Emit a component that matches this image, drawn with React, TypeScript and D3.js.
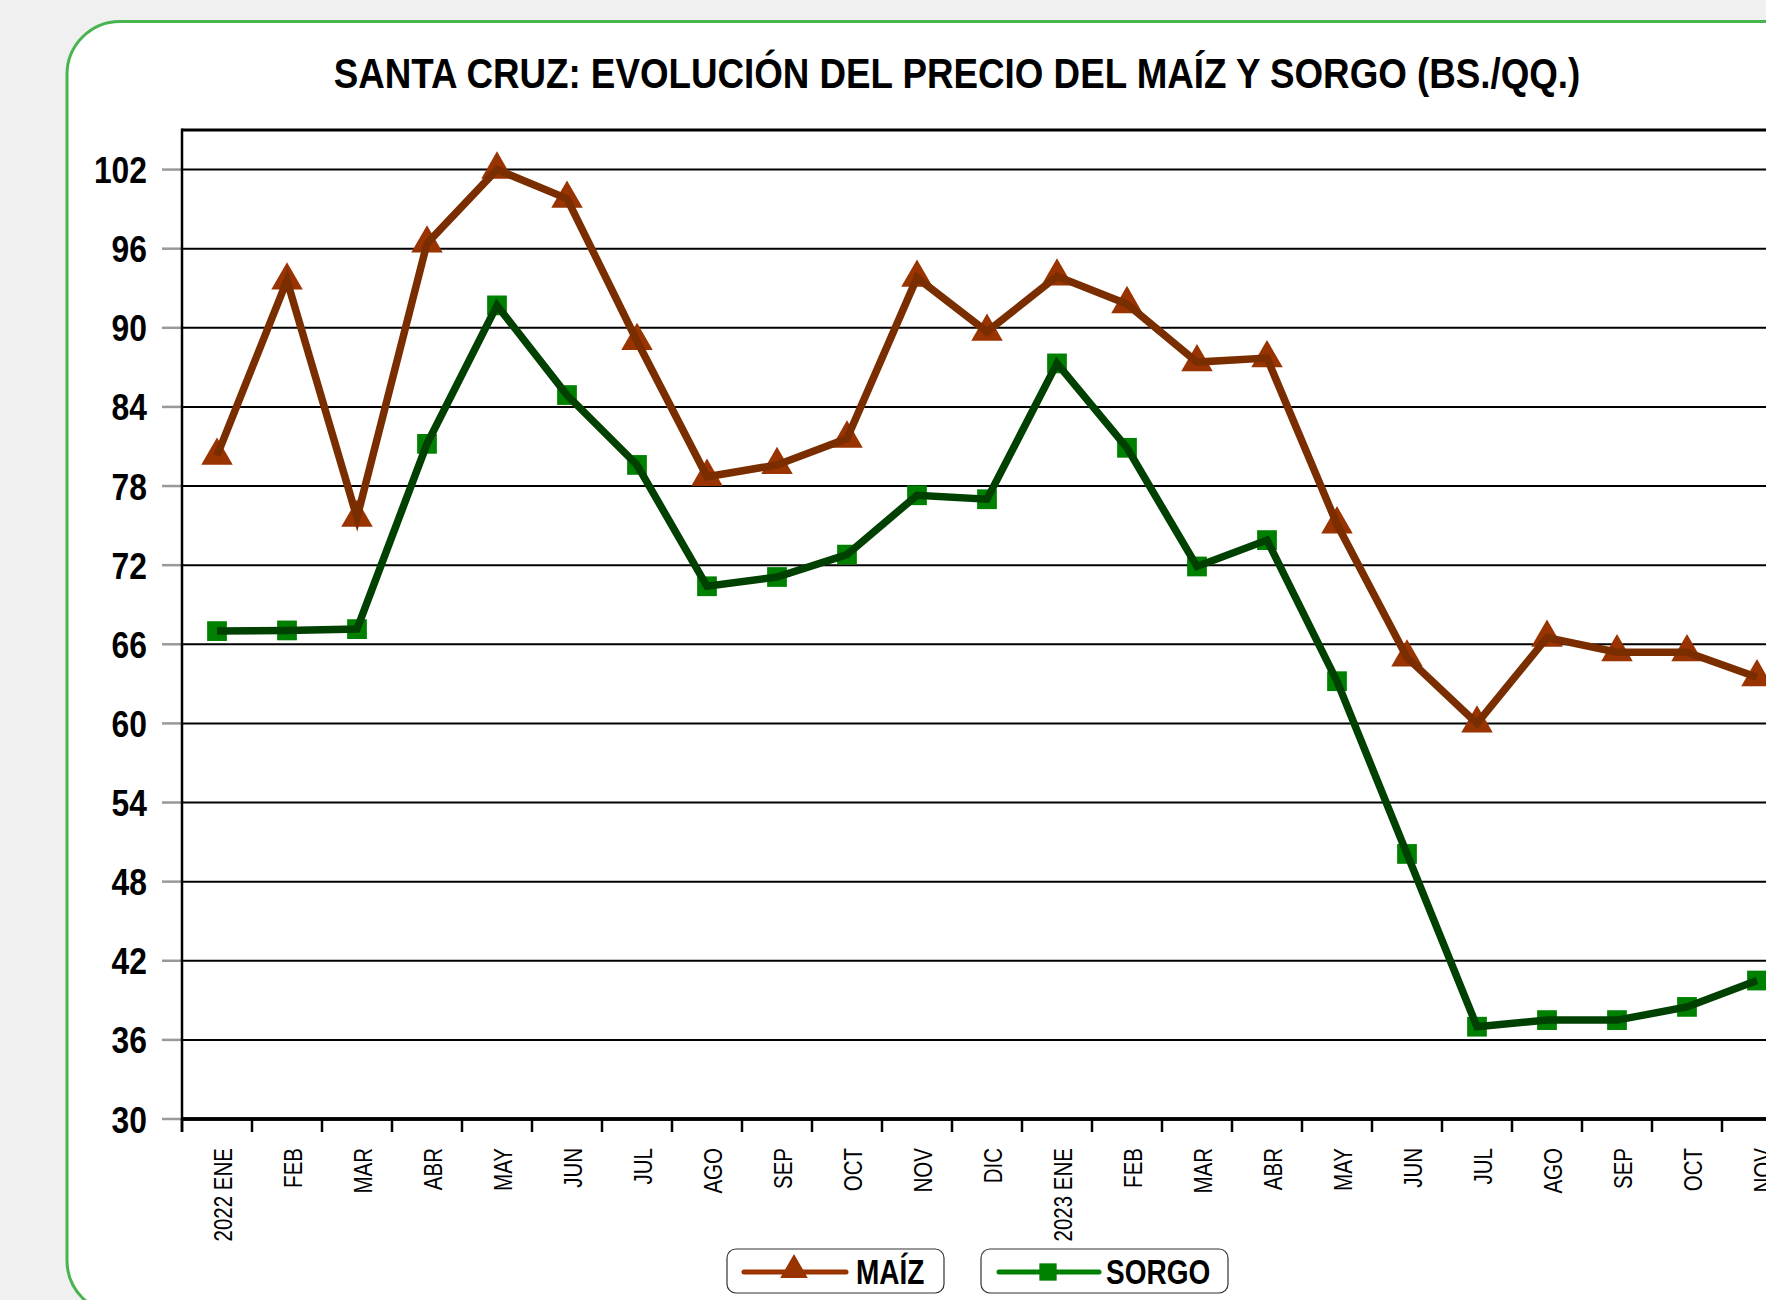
import React from "react";
import * as d3 from "d3";

const categories = [
  "2022 ENE", "FEB", "MAR", "ABR", "MAY", "JUN", "JUL", "AGO", "SEP", "OCT", "NOV", "DIC",
  "2023 ENE", "FEB", "MAR", "ABR", "MAY", "JUN", "JUL", "AGO", "SEP", "OCT", "NOV",
];
const maizValues = [
  80.3, 93.6, 75.6, 96.4, 102.0, 99.8, 89.0, 78.7, 79.6, 81.6, 93.8, 89.7,
  93.9, 91.8, 87.4, 87.7, 75.1, 65.0, 60.0, 66.5, 65.4, 65.4, 63.5,
];
const sorgoValues = [
  67.0, 67.05, 67.15, 81.2, 91.7, 84.9, 79.6, 70.4, 71.1, 72.8, 77.3, 77.0,
  87.3, 80.9, 71.9, 73.9, 63.2, 50.1, 37.0, 37.5, 37.5, 38.5, 40.5,
];
const yTicks = [30, 36, 42, 48, 54, 60, 66, 72, 78, 84, 90, 96, 102];
const titleText = "SANTA CRUZ: EVOLUCIÓN DEL PRECIO DEL MAÍZ Y SORGO (BS./QQ.)";
const seriesNames = ["MAÍZ", "SORGO"];

const FONT = "'Liberation Sans', Arial, sans-serif";
const NARROW = 0.82;

export default function App() {
  const W = 1766, H = 1300;
  const left = 182, top = 130, bottom = 1119, step = 70;
  const idx = categories.map((_, i) => i);
  const x = d3.scaleBand<number>().domain(idx).range([left, left + step * categories.length]).padding(0);
  const y = d3.scaleLinear().domain([30, 105]).range([bottom, top]);
  const cx = (i: number) => (x(i) as number) + x.bandwidth() / 2;
  const line = d3.line<number>().x((_, i) => cx(i)).y((d) => y(d));
  const tri = d3.symbol(d3.symbolTriangle, 430)();
  const sq = d3.symbol(d3.symbolSquare, 390)();
  const triLegend = d3.symbol(d3.symbolTriangle, 330)();
  const sqLegend = d3.symbol(d3.symbolSquare, 300)();
  const rightEdge = left + step * categories.length;

  const maizLine = "#7a2e00";
  const maizMarker = "#993300";
  const sorgoLine = "#004000";
  const sorgoMarker = "#008000";
  const ly = 1249;

  return (
    <svg width={W} height={H} style={{ position: "absolute", left: 0, top: 0 }}>
      <rect x={0} y={0} width={W} height={H} fill="#f0f0f0" />
      <rect x={67} y={21.5} width={1900} height={1292} rx={53} ry={53} fill="#ffffff" stroke="#48b450" strokeWidth={3} />
      <text transform={`translate(957,88) scale(0.875,1)`} textAnchor="middle" fontFamily={FONT} fontWeight="bold" fontSize={42}
        fill="#000">{titleText}</text>

      {/* gridlines */}
      {yTicks.map((t) => (
        <g key={t}>
          <line x1={left} x2={W + 10} y1={y(t)} y2={y(t)} stroke="#000" strokeWidth={t === 30 ? 3.5 : 2} />
          <line x1={162} x2={left} y1={y(t)} y2={y(t)} stroke="#999" strokeWidth={2.5} />
          <text transform={`translate(147,${y(t) + 13.5}) scale(0.86,1)`} textAnchor="end" fontFamily={FONT} fontWeight="bold" fontSize={37} fill="#000">{t}</text>
        </g>
      ))}
      {/* plot top border */}
      <line x1={left} x2={W + 10} y1={top} y2={top} stroke="#000" strokeWidth={3} />
      {/* left axis */}
      <line x1={left} x2={left} y1={top - 1.5} y2={bottom + 13} stroke="#000" strokeWidth={2.5} />
      {/* x ticks */}
      {d3.range(categories.length + 1).map((i) => (
        <line key={i} x1={left + i * step} x2={left + i * step} y1={bottom} y2={bottom + 13} stroke="#000" strokeWidth={2.5} />
      ))}
      {categories.map((c, i) => (
        <text key={i} transform={`translate(${cx(i) + 15},1148) rotate(-90) scale(${NARROW},1)`} textAnchor="end"
          fontFamily={FONT} fontSize={25} fill="#000">{c}</text>
      ))}
      <line x1={left} x2={rightEdge} y1={bottom} y2={bottom} stroke="#000" strokeWidth={3.5} />

      {/* series */}
      {maizValues.map((v, i) => (
        <path key={"mm" + i} d={tri as string} transform={`translate(${cx(i)},${y(v)})`} fill={maizMarker} />
      ))}
      <path d={line(maizValues) as string} fill="none" stroke={maizLine} strokeWidth={7.5} strokeLinejoin="miter" />
      {sorgoValues.map((v, i) => (
        <path key={"sm" + i} d={sq as string} transform={`translate(${cx(i)},${y(v)})`} fill={sorgoMarker} />
      ))}
      <path d={line(sorgoValues) as string} fill="none" stroke={sorgoLine} strokeWidth={7.5} strokeLinejoin="miter" />

      {/* legend */}
      <rect x={727} y={ly} width={217} height={44} rx={9} fill="#fff" stroke="#333" strokeWidth={1.2} />
      <line x1={744} x2={846} y1={ly + 23} y2={ly + 23} stroke={maizMarker} strokeWidth={5} strokeLinecap="round" />
      <path d={triLegend as string} transform={`translate(794,${ly + 21})`} fill={maizMarker} />
      <text transform={`translate(856,${ly + 35}) scale(0.8,1)`} fontFamily={FONT} fontWeight="bold" fontSize={35} fill="#000">{seriesNames[0]}</text>

      <rect x={981} y={ly} width={247} height={44} rx={9} fill="#fff" stroke="#333" strokeWidth={1.2} />
      <line x1={999} x2={1099} y1={ly + 23} y2={ly + 23} stroke={sorgoMarker} strokeWidth={5} strokeLinecap="round" />
      <path d={sqLegend as string} transform={`translate(1048,${ly + 23})`} fill={sorgoMarker} />
      <text transform={`translate(1106,${ly + 35}) scale(0.8,1)`} fontFamily={FONT} fontWeight="bold" fontSize={35} fill="#000">{seriesNames[1]}</text>
    </svg>
  );
}
